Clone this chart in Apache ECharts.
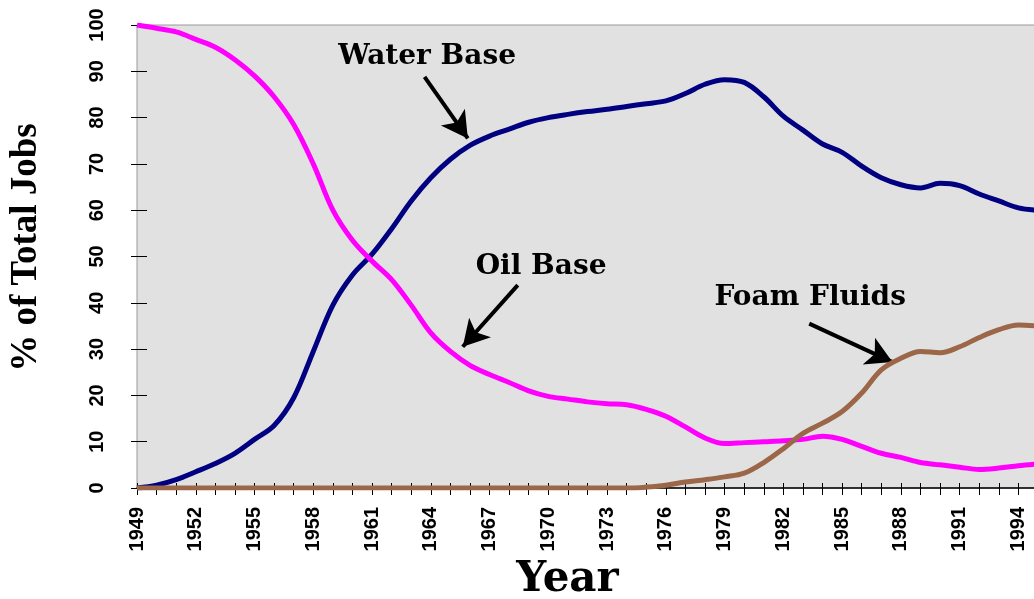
<!DOCTYPE html>
<html>
<head>
<meta charset="utf-8">
<script src="https://cdn.jsdelivr.net/npm/echarts@6/dist/echarts.min.js"></script>
<style>html,body{margin:0;padding:0;background:#fff}#c{width:1034px;height:599px}</style>
</head>
<body>
<div id="c"></div>
<script>
const years = [1949,1950,1951,1952,1953,1954,1955,1956,1957,1958,1959,1960,1961,1962,1963,1964,1965,1966,1967,1968,1969,1970,1971,1972,1973,1974,1975,1976,1977,1978,1979,1980,1981,1982,1983,1984,1985,1986,1987,1988,1989,1990,1991,1992,1993,1994,1995];
const waterBase = [0,0.6,1.8,3.5,5.3,7.5,10.5,13.5,19.5,29.5,39.5,46,50.5,56,62,67,71,74,76,77.5,79,80,80.7,81.3,81.8,82.4,83,83.6,85.2,87.2,88.2,87.6,84.5,80.3,77.3,74.3,72.5,69.5,67,65.5,64.8,65.8,65.3,63.5,62,60.5,60];
const oilBase = [100,99.3,98.5,96.9,95.2,92.5,89,84.5,78.5,70,60,53.5,49,45,39.5,33.5,29.5,26.5,24.5,22.8,21,19.8,19.2,18.6,18.2,18,17,15.5,13.2,10.8,9.6,9.8,10,10.2,10.5,11.2,10.5,9,7.5,6.6,5.5,5,4.5,4,4.3,4.8,5.2];
const foamFluids = [0,0,0,0,0,0,0,0,0,0,0,0,0,0,0,0,0,0,0,0,0,0,0,0,0,0,0.2,0.6,1.3,1.8,2.4,3.2,5.5,8.5,11.8,14,16.5,20.5,25.5,28,29.5,29.2,30.5,32.5,34.2,35.2,35];
const yTicks = [0,10,20,30,40,50,60,70,80,90,100];
const seriesNames = ['Water Base','Oil Base','Foam Fluids'];

const pair = arr => years.map((y,i)=>[y,arr[i]]);
const serifH = 'DejaVu Serif';
const labelFont = {fontFamily:'Liberation Sans, Arial', fontWeight:'bold', fontSize:20, color:'#000'};

const annText = [
  {name:'Water Base', coord:[1963.81, 93.1]},
  {name:'Oil Base', coord:[1969.63, 47.7]},
  {name:'Foam Fluids', coord:[1983.37, 41]}
];
const annArrows = [
  [[1963.68, 88.8],[1965.89, 75.5]],
  [[1968.44, 43.8],[1965.63, 30.5]],
  [[1983.32, 35.5],[1987.57, 27.2]]
];

const chart = echarts.init(document.getElementById('c'), null, {renderer:'canvas'});
const lineSeries = (name, data, color, z) => ({
  name, type:'line', data: pair(data), smooth:0.35, showSymbol:false, z,
  lineStyle:{color, width:5}, itemStyle:{color}, animation:false, clip:true
});
const option = {
  animation:false,
  grid:{left:137, right:-4, top:25, bottom:111, containLabel:false, outerBoundsMode:'none',
        show:true, backgroundColor:'#e1e1e1', borderColor:'#9a9a9a', borderWidth:1},
  xAxis:[{
    type:'value', min:1949, max:1995, interval:1, position:'bottom',
    axisLine:{show:true, onZero:false, lineStyle:{color:'#000', width:1.5}},
    axisTick:{show:false},
    splitLine:{show:false},
    axisLabel:Object.assign({rotate:90, margin:19, showMaxLabel:false, hideOverlap:false, formatter:v=> (Number.isInteger(v) && (v-1949)%3===0 && v<1995) ? String(v) : ''}, labelFont),
    name:'Year', nameLocation:'middle', nameGap:70,
    nameTextStyle:{fontFamily:serifH, fontWeight:'bold', fontSize:42, color:'#000', padding:[0,40,0,0]}
  },{
    type:'value', min:1949, max:1995, interval:1, position:'bottom', offset:-5,
    axisLine:{show:false}, axisLabel:{show:false}, splitLine:{show:false},
    axisTick:{show:true, length:12, lineStyle:{color:'#000', width:1}}
  }],
  yAxis:[{
    type:'value', min:0, max:100, interval:10, position:'left',
    axisLine:{show:false}, axisTick:{show:false}, splitLine:{show:false},
    axisLabel:{show:false},
    name:'% of Total Jobs', nameLocation:'middle', nameGap:92, nameRotate:90,
    nameTextStyle:{fontFamily:'Liberation Serif', fontWeight:'bold', fontSize:37, color:'#000', padding:[0,0,0,18]}
  },{
    type:'value', min:0, max:100, interval:10, position:'left', offset:-10,
    axisLine:{show:false}, axisLabel:{show:false}, splitLine:{show:false},
    axisTick:{show:true, length:16, lineStyle:{color:'#000', width:1}}
  }],
  series:[
    lineSeries(seriesNames[0], waterBase, '#000080', 3),
    lineSeries(seriesNames[1], oilBase, '#ff00ff', 4),
    Object.assign(lineSeries(seriesNames[2], foamFluids, '#9c6648', 5), {
      markLine:{
        silent:true, symbol:['none','arrow'], symbolSize:[22,26], animation:false,
        lineStyle:{color:'#000', width:4, type:'solid'}, label:{show:false},
        data: annArrows.map(a=>[{coord:a[0]},{coord:a[1]}])
      },
      markPoint:{
        silent:true, symbol:'circle', symbolSize:1, itemStyle:{color:'rgba(0,0,0,0)'}, animation:false,
        label:{show:true, position:'inside', formatter:p=>p.name, fontFamily:serifH, fontWeight:'bold', fontSize:28, color:'#000'},
        data: annText.map(t=>({name:t.name, coord:t.coord}))
      }
    })
  ]
};
chart.setOption(option);
// rotated y tick labels, placed through the y axis scale
const leftX = chart.convertToPixel({xAxisIndex:0}, 1949);
chart.setOption({
  graphic: yTicks.map(v => ({
    type:'text', silent:true,
    x: leftX - 40, y: chart.convertToPixel({yAxisIndex:0}, v),
    rotation: Math.PI/2,
    style:{text:String(v), font:'bold 20px "Liberation Sans", Arial', fill:'#000', align:'center', verticalAlign:'middle'}
  }))
});
</script>
</body>
</html>
